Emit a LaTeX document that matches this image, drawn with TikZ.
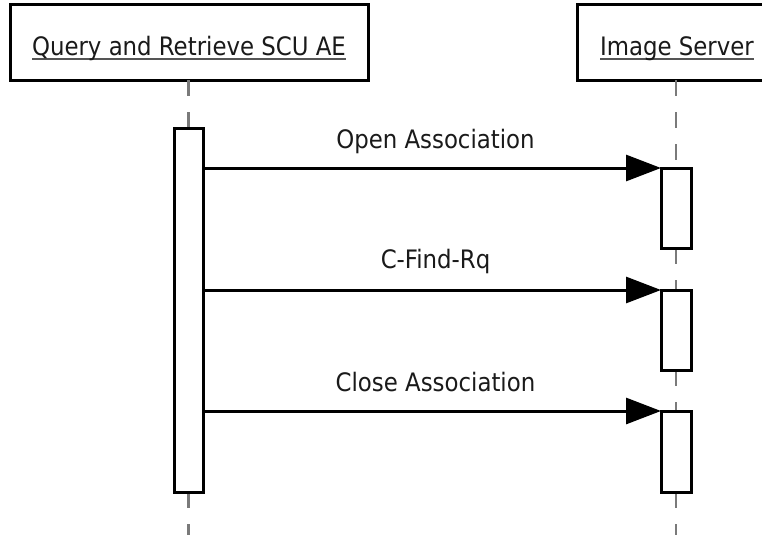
\documentclass[tikz,border=0pt]{standalone}
\usepackage{fontspec}
\setmainfont{DejaVu Sans Condensed}
\usetikzlibrary{arrows.meta}
\definecolor{lifegray}{HTML}{7A7A7A}
\definecolor{ulgray}{HTML}{555555}
\definecolor{txt}{HTML}{1A1A1A}
\newcommand\myul[1]{\setbox0\hbox{#1}\rlap{\color{ulgray}\vrule height -2.5pt depth 4.5pt width \wd0}\box0}
\tikzset{
  headbox/.style={draw=black, line width=3pt, fill=white, inner sep=0pt, outer sep=0pt, text height=27pt, text depth=0pt, minimum height=75pt, text=txt},
  actbox/.style={draw=black, line width=3pt, fill=white, inner sep=0pt, outer sep=0pt, minimum width=29pt},
  lifeline/.style={draw=lifegray, line width=2.5pt, dash pattern=on 16pt off 16pt},
  msg/.style={draw=black, line width=3pt, -{Triangle[length=35pt,width=26pt]}},
  msglabel/.style={anchor=base, inner sep=0pt, text=txt}
}
\begin{document}
\begin{tikzpicture}[x=1pt,y=-1pt, font=\fontsize{25.4}{30}\selectfont]
\useasboundingbox (0,0) rectangle (762,535);
\clip (0,0) rectangle (762,535);
\fill[white] (0,0) rectangle (762,535);
% heads
\node[headbox, minimum width=358pt] (scu) at (189,42.5) {\myul{Query and Retrieve SCU AE}};
\node[headbox, minimum width=200pt] (srv) at (677,42.5) {\myul{Image Server}};
% lifeline endpoints
\coordinate (scuend) at (189,535);
\coordinate (srvend) at (676,535);
% activations
\node[actbox, minimum height=364pt] (la) at (188.5,310) {};
\node[actbox, minimum height=80pt, minimum width=30pt] (ra1) at (676,208) {};
\node[actbox, minimum height=80pt, minimum width=30pt] (ra2) at (676,330) {};
\node[actbox, minimum height=81pt, minimum width=30pt] (ra3) at (676,451.5) {};
% lifelines
\draw[lifeline] (scu.south -| la.north) -- (la.north);
\draw[lifeline] (la.south) -- (la.south |- scuend);
\draw[lifeline] (srv.south -| ra1.north) -- (ra1.north);
\draw[lifeline] (ra1.south) -- (ra2.north);
\draw[lifeline] (ra2.south) -- (ra3.north);
\draw[lifeline] (ra3.south) -- (ra3.south |- srvend);
% redraw activations on top
\node[actbox, minimum height=364pt] at (la) {};
\node[actbox, minimum height=80pt, minimum width=30pt] at (ra1) {};
\node[actbox, minimum height=80pt, minimum width=30pt] at (ra2) {};
\node[actbox, minimum height=81pt, minimum width=30pt] at (ra3) {};
% messages
\draw[msg] (la.east |- ra1.north west) -- (ra1.north west);
\draw[msg] (la.east |- ra2.north west) -- (ra2.north west);
\draw[msg] (la.east |- ra3.north west) -- (ra3.north west);
% labels
\node[msglabel] (l1) at (435.5,148) {Open Association};
\node[msglabel] (l2) at (435.5,268) {C-Find-Rq};
\node[msglabel] (l3) at (435.5,391) {Close Association};
\end{tikzpicture}
\end{document}
